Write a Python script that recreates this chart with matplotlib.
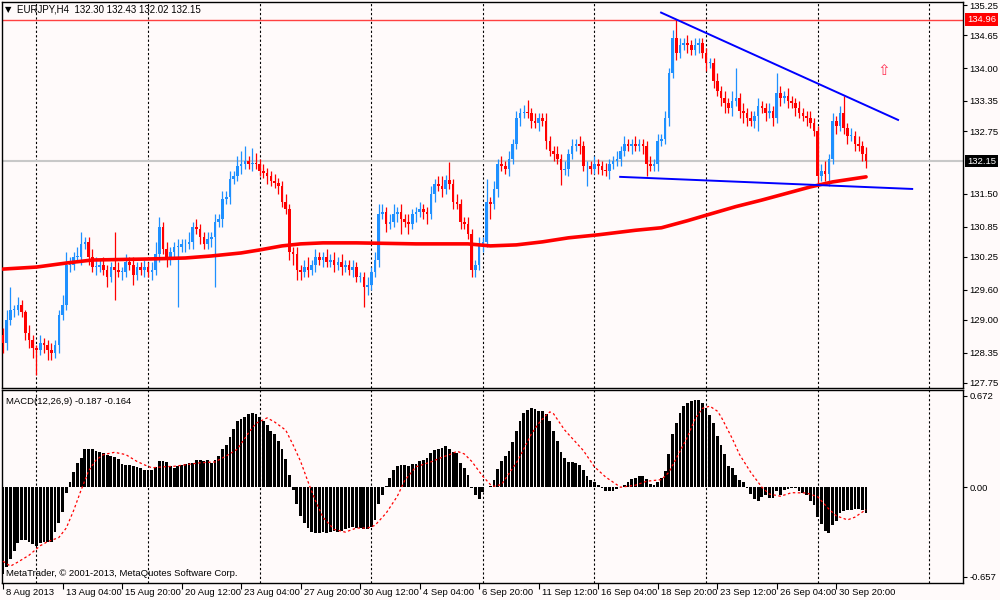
import numpy as np
import matplotlib
matplotlib.use("Agg")
import matplotlib.pyplot as plt
from matplotlib.transforms import blended_transform_factory

plt.rcParams['font.family'] = ['Liberation Sans', 'DejaVu Sans']

BG = "#FFFAFA"
UP = "#1E90FF"
DOWN = "#FF0000"
FS = 6.8

# EURJPY H4 closes, one per bar (bar 0 = 8 Aug 2013 12:00)
first_open = 128.70
closes = [
    128.55, 129.00, 129.20, 129.20, 129.30, 129.15, 128.75, 128.60, 128.45, 128.40,
    128.55, 128.50, 128.40, 128.35, 128.50, 129.10, 129.30, 130.10, 130.10, 130.25,
    130.25, 130.50, 130.55, 130.25, 130.05, 130.05, 130.10, 130.00, 129.85, 130.05,
    130.00, 129.95, 129.95, 130.15, 130.10, 129.90, 130.05, 130.00, 130.05, 129.95,
    130.00, 130.30, 130.85, 130.40, 130.20, 130.35, 130.45, 130.45, 130.50, 130.50,
    130.55, 130.85, 130.80, 130.65, 130.50, 130.60, 130.65, 130.95, 131.00, 131.40,
    131.45, 131.80, 131.85, 132.05, 132.10, 132.15, 132.10, 132.12, 132.10, 131.95,
    131.92, 131.85, 131.75, 131.72, 131.65, 131.35, 131.20, 130.35, 130.30, 130.00,
    129.95, 130.05, 130.00, 130.10, 130.25, 130.20, 130.25, 130.15, 130.20, 130.10,
    130.15, 130.05, 130.10, 130.00, 130.05, 129.85, 129.85, 129.65, 129.70, 129.95,
    130.20, 131.10, 131.15, 130.90, 130.95, 131.10, 131.15, 131.00, 130.95, 130.90,
    131.10, 131.15, 131.20, 131.15, 131.10, 131.50, 131.70, 131.65, 131.60, 131.78,
    131.70, 131.35, 131.30, 130.95, 130.90, 130.70, 130.00, 130.10, 130.50, 130.55,
    131.35, 131.30, 131.60, 132.10, 132.05, 132.00, 132.20, 132.50, 133.00, 133.10,
    133.12, 133.10, 132.95, 132.90, 133.00, 132.95, 132.55, 132.35, 132.30, 132.20,
    131.97, 132.00, 132.30, 132.45, 132.50, 132.45, 132.05, 132.05, 132.00, 132.10,
    132.05, 131.97, 131.95, 132.10, 132.15, 132.20, 132.35, 132.50, 132.45, 132.50,
    132.45, 132.50, 132.45, 132.10, 132.05, 132.10, 132.55, 132.60, 133.00, 133.90,
    134.60, 134.30, 134.45, 134.50, 134.45, 134.35, 134.45, 134.50, 134.30, 134.10,
    134.10, 133.75, 133.55, 133.40, 133.30, 133.20, 133.35, 133.40, 133.15, 133.10,
    133.00, 132.95, 133.05, 133.25, 133.20, 133.10, 133.15, 133.00, 133.50, 133.40,
    133.45, 133.35, 133.30, 133.20, 133.10, 133.05, 133.00, 132.90, 132.75, 131.85,
    131.95, 131.90, 132.20, 132.95, 132.85, 133.10, 132.80, 132.65, 132.65, 132.50,
    132.45, 132.30, 132.15]

# wick lengths above / below the body, in pips (0.01)
wick_up = [
    15, 20, 45, 10, 15, 10, 5, 15, 10, 5,
    15, 10, 10, 15, 10, 10, 20, 25, 15, 10,
    20, 25, 10, 10, 15, 20, 10, 15, 10, 10,
    70, 15, 10, 15, 10, 15, 10, 10, 15, 10,
    15, 25, 20, 10, 15, 10, 10, 15, 10, 10,
    20, 10, 15, 10, 10, 15, 10, 15, 10, 15,
    10, 15, 10, 20, 25, 30, 10, 30, 20, 10,
    15, 10, 10, 15, 10, 10, 15, 10, 10, 15,
    10, 15, 20, 10, 15, 10, 10, 15, 10, 15,
    10, 15, 10, 10, 15, 10, 10, 10, 15, 10,
    15, 20, 15, 10, 15, 20, 10, 15, 10, 15,
    10, 10, 15, 10, 10, 15, 10, 15, 20, 10,
    35, 10, 15, 10, 10, 15, 10, 10, 15, 10,
    45, 10, 15, 10, 15, 10, 15, 10, 15, 10,
    15, 25, 10, 15, 10, 10, 15, 10, 10, 15,
    10, 15, 10, 15, 10, 15, 10, 10, 10, 15,
    10, 10, 15, 10, 10, 15, 10, 15, 10, 10,
    15, 10, 10, 10, 15, 10, 15, 10, 15, 10,
    15, 35, 15, 10, 15, 10, 15, 10, 10, 10,
    10, 10, 15, 10, 15, 10, 20, 60, 10, 15,
    10, 15, 10, 15, 10, 10, 15, 10, 40, 15,
    10, 15, 10, 10, 15, 10, 10, 15, 10, 10,
    15, 20, 10, 15, 10, 15, 35, 10, 15, 10,
    15, 10, 13]
wick_dn = [
    20, 15, 10, 15, 10, 10, 15, 15, 20, 50,
    10, 15, 20, 15, 10, 15, 10, 10, 15, 10,
    10, 15, 10, 15, 10, 15, 10, 10, 20, 10,
    60, 10, 15, 10, 10, 20, 10, 10, 15, 10,
    15, 10, 15, 10, 15, 10, 10, 120, 10, 15,
    10, 15, 10, 15, 10, 10, 15, 100, 10, 15,
    10, 15, 10, 10, 15, 10, 10, 15, 10, 10,
    10, 15, 10, 10, 15, 10, 10, 15, 20, 20,
    15, 10, 15, 10, 15, 10, 15, 10, 10, 15,
    10, 15, 10, 10, 15, 10, 10, 40, 15, 10,
    10, 15, 10, 15, 10, 10, 15, 30, 10, 20,
    10, 15, 10, 15, 20, 10, 15, 10, 15, 10,
    10, 15, 10, 15, 10, 10, 15, 15, 10, 15,
    10, 30, 10, 15, 10, 10, 15, 10, 10, 15,
    10, 10, 15, 10, 15, 10, 15, 10, 15, 10,
    30, 10, 15, 10, 10, 15, 10, 40, 10, 10,
    15, 10, 10, 15, 10, 10, 15, 10, 10, 15,
    10, 10, 15, 25, 10, 10, 15, 10, 10, 15,
    10, 15, 10, 10, 15, 10, 10, 15, 10, 15,
    10, 15, 10, 15, 20, 10, 15, 10, 15, 20,
    15, 10, 15, 30, 10, 15, 10, 15, 10, 15,
    10, 15, 10, 15, 10, 10, 15, 10, 10, 15,
    10, 15, 25, 10, 15, 10, 10, 15, 10, 15,
    10, 15, 13]

# moving average (thick red line), read at a few bars
ma_bar = [0, 9, 17, 24, 39, 49, 56, 64, 69, 75, 80, 86, 95, 111, 125, 131, 138, 145,
          152, 160, 170, 177, 184, 190, 197, 204, 211, 217, 223, 232]
ma_val = [130.01, 130.05, 130.13, 130.19, 130.21, 130.23, 130.27, 130.33, 130.39, 130.47,
          130.51, 130.53, 130.53, 130.51, 130.51, 130.47, 130.49, 130.55, 130.63, 130.69,
          130.78, 130.83, 130.97, 131.10, 131.25, 131.38, 131.52, 131.64, 131.74, 131.84]

# MACD(12,26,9) main values per bar
macd = [
    -0.64, -0.59, -0.53, -0.47, -0.41, -0.385, -0.385, -0.40, -0.42, -0.43,
    -0.41, -0.40, -0.40, -0.40, -0.33, -0.26, -0.18, -0.04, 0.04, 0.11,
    0.18, 0.215, 0.28, 0.28, 0.28, 0.27, 0.26, 0.25, 0.24, 0.23,
    0.22, 0.21, 0.17, 0.167, 0.16, 0.155, 0.147, 0.142, 0.13, 0.125,
    0.13, 0.147, 0.196, 0.19, 0.186, 0.155, 0.142, 0.155, 0.167, 0.17,
    0.18, 0.18, 0.20, 0.20, 0.196, 0.20, 0.18, 0.20, 0.23, 0.28,
    0.31, 0.37, 0.43, 0.485, 0.505, 0.52, 0.535, 0.547, 0.535, 0.52,
    0.49, 0.46, 0.417, 0.39, 0.34, 0.28, 0.21, 0.09, -0.02, -0.12,
    -0.21, -0.26, -0.30, -0.33, -0.335, -0.333, -0.33, -0.333, -0.33, -0.32,
    -0.33, -0.32, -0.31, -0.30, -0.29, -0.30, -0.30, -0.306, -0.31, -0.29,
    -0.24, -0.12, -0.054, 0.012, 0.07, 0.13, 0.155, 0.16, 0.167, 0.155,
    0.17, 0.17, 0.196, 0.20, 0.216, 0.25, 0.277, 0.28, 0.29, 0.306,
    0.28, 0.26, 0.25, 0.18, 0.14, 0.09, -0.005, -0.06, -0.09, -0.035,
    0.0, 0.007, 0.056, 0.135, 0.19, 0.23, 0.27, 0.33, 0.417, 0.485,
    0.547, 0.57, 0.583, 0.578, 0.564, 0.56, 0.54, 0.485, 0.417, 0.34,
    0.26, 0.216, 0.186, 0.186, 0.18, 0.16, 0.13, 0.08, 0.056, 0.037,
    0.02, -0.005, -0.025, -0.03, -0.025, -0.01, 0.003, 0.02, 0.04, 0.06,
    0.07, 0.08, 0.086, 0.06, 0.025, 0.02, 0.037, 0.07, 0.12, 0.245,
    0.39, 0.47, 0.547, 0.596, 0.62, 0.632, 0.645, 0.645, 0.62, 0.583,
    0.534, 0.47, 0.375, 0.314, 0.245, 0.155, 0.142, 0.088, 0.056, 0.04,
    -0.005, -0.05, -0.09, -0.10, -0.073, -0.054, -0.078, -0.078, -0.03, -0.054,
    -0.017, -0.012, -0.005, -0.005, -0.03, -0.04, -0.054, -0.10, -0.127, -0.22,
    -0.27, -0.32, -0.336, -0.275, -0.25, -0.19, -0.176, -0.17, -0.164, -0.157,
    -0.157, -0.164, -0.187]

# signal line (red dotted), read at selected bars
sig_bar = [0, 2, 4, 7, 10, 12, 15, 17, 19, 21, 23, 25, 27, 30, 33, 36, 38, 40, 43, 46,
           49, 53, 57, 60, 63, 66, 68, 71, 73, 76, 78, 80, 82, 84, 86, 89, 92, 95, 98, 100,
           103, 106, 108, 111, 115, 118, 121, 122, 124, 126, 129, 131, 132, 134, 136, 138, 139, 142, 144, 146,
           147, 148, 149, 151, 153, 156, 159, 162, 166, 170, 173, 177, 179, 182, 184, 186, 188, 190, 192, 193,
           196, 198, 201, 204, 206, 209, 212, 216, 219, 222, 224, 227, 229, 232]
sig_val = [-0.544, -0.58, -0.55, -0.50, -0.43, -0.40, -0.37, -0.30, -0.17, -0.02,
           0.12, 0.20, 0.24, 0.257, 0.24, 0.19, 0.165, 0.143, 0.15, 0.154,
           0.165, 0.18, 0.186, 0.23, 0.28, 0.40, 0.47, 0.51, 0.48, 0.42,
           0.31, 0.19, 0.04, -0.10, -0.22, -0.31, -0.33, -0.30, -0.30, -0.28,
           -0.19, -0.066, 0.05, 0.15, 0.186, 0.22, 0.25, 0.265, 0.245, 0.19,
           0.08, 0.02, 0.007, 0.02, 0.10, 0.18, 0.228, 0.39, 0.47, 0.53,
           0.554, 0.54, 0.50, 0.42, 0.36, 0.27, 0.15, 0.075, 0.0, 0.015,
           0.044, 0.056, 0.11, 0.265, 0.37, 0.50, 0.58, 0.596, 0.56, 0.52,
           0.36, 0.24, 0.11, 0.0, -0.05, -0.066, -0.04, -0.042, -0.07, -0.16,
           -0.21, -0.24, -0.22, -0.164]

# hand-drawn trend lines (bar, price)
upper_line = ([176.9, 240.6], [135.10, 132.97])
lower_line = ([165.9, 244.4], [131.84, 131.60])

resistance = 134.96
last_price = 132.15

price_ticks = [135.25, 134.65, 134.00, 133.35, 132.75, 131.50, 130.85, 130.25, 129.60, 129.00, 128.35, 127.75]
macd_ticks = [0.672, 0.0, -0.657]
macd_tick_labels = ["0.672", "0.00", "-0.657"]
grid_bars = [9, 39, 69, 99, 129, 159, 189, 219, 249]
date_bars = [0, 16, 32, 48, 64, 80, 96, 112, 128, 144, 160, 176, 192, 208, 224]
date_labels = ["8 Aug 2013", "13 Aug 04:00", "15 Aug 20:00", "20 Aug 12:00", "23 Aug 04:00",
               "27 Aug 20:00", "30 Aug 12:00", "4 Sep 04:00", "6 Sep 20:00", "11 Sep 12:00",
               "16 Sep 04:00", "18 Sep 20:00", "23 Sep 12:00", "26 Sep 04:00", "30 Sep 20:00"]

c = np.array(closes)
o = np.r_[first_open, c[:-1]]
top = np.maximum(o, c)
bot = np.minimum(o, c)
hi = top + np.array(wick_up) / 100.0
lo = bot - np.array(wick_dn) / 100.0
x = np.arange(len(c))
cols = [UP if cc >= oo else DOWN for oo, cc in zip(o, c)]

fig = plt.figure(figsize=(10, 6), dpi=100, facecolor=BG)
ax1 = fig.add_axes([0.002, 1 - 388 / 600, 0.961, 386 / 600], facecolor=BG)
ax2 = fig.add_axes([0.002, 1 - 583 / 600, 0.961, 193 / 600], facecolor=BG, sharex=ax1)

for ax in (ax1, ax2):
    for b in grid_bars:
        ax.axvline(b, color="black", lw=0.8, ls=(0, (2, 2)), zorder=1)
    for s in ax.spines.values():
        s.set_color("black")
        s.set_linewidth(1.0)
    ax.yaxis.tick_right()
    ax.tick_params(axis="y", direction="out", length=3, width=0.8, pad=1.5, labelsize=FS, colors="black")

# price panel
ax1.axhline(resistance, color="#FF4040", lw=1.0, zorder=2)
ax1.axhline(last_price, color="#C8C8C8", lw=1.5, zorder=1)
ax1.vlines(x, lo, hi, colors=cols, lw=0.9, zorder=3)
ax1.bar(x, np.maximum(top - bot, 0.015), bottom=bot, width=0.7, color=cols, linewidth=0, zorder=4)
ax1.plot(ma_bar, ma_val, color="red", lw=2.6, zorder=5, solid_capstyle="round")
ax1.plot(*upper_line, color="#0000FF", lw=1.4, zorder=6)
ax1.plot(*lower_line, color="#0000FF", lw=1.4, zorder=6)
ax1.text(236.8, 133.96, "\u21e7", color="#FF3355", fontsize=11, ha="center", va="center",
         family="DejaVu Sans")

ax1.set_xlim(-0.27, 258.06)
ax1.set_ylim(127.65, 135.31)
ax1.set_yticks(price_ticks)
ax1.set_yticklabels(["%.2f" % v for v in price_ticks])
ax1.tick_params(axis="x", bottom=False, labelbottom=False)

tr1 = blended_transform_factory(ax1.transAxes, ax1.transData)
ax1.text(1.004, resistance, "%.2f" % resistance, transform=tr1, color="white", fontsize=FS,
         ha="left", va="center", bbox=dict(facecolor="red", edgecolor="none", pad=1.2))
ax1.text(1.004, last_price, "%.2f" % last_price, transform=tr1, color="white", fontsize=FS,
         ha="left", va="center", bbox=dict(facecolor="black", edgecolor="none", pad=1.2))

fig.text(0.005, 1 - 10 / 600, "\u25bc", fontsize=6, va="center", ha="left", family="DejaVu Sans")
fig.text(0.017, 1 - 10 / 600, "EURJPY,H4  132.30 132.43 132.02 132.15", fontsize=7,
         va="center", ha="left")

# MACD panel
ax2.bar(x, macd, width=0.75, color="black", linewidth=0, zorder=3)
ax2.plot(sig_bar, sig_val, color="red", lw=0.9, ls=(0, (2, 2)), zorder=4)
ax2.set_ylim(-0.704, 0.715)
ax2.set_yticks(macd_ticks)
ax2.set_yticklabels(macd_tick_labels)
ax2.set_xticks(date_bars)
ax2.set_xticklabels([])
ax2.tick_params(axis="x", direction="out", length=4, width=0.8)

tr2 = blended_transform_factory(ax2.transData, ax2.transAxes)
for b, lab in zip(date_bars, date_labels):
    ax2.text(b + 0.8, -0.025, lab, transform=tr2, fontsize=FS, ha="left", va="top", clip_on=False)

ax2.text(0.004, 0.965, "MACD(12,26,9) -0.187 -0.164", transform=ax2.transAxes,
         fontsize=FS, ha="left", va="top")
ax2.text(0.004, 0.025, "MetaTrader, \u00a9 2001-2013, MetaQuotes Software Corp.",
         transform=ax2.transAxes, fontsize=FS, ha="left", va="bottom")

fig.savefig("out.png", dpi=100, facecolor=BG)
